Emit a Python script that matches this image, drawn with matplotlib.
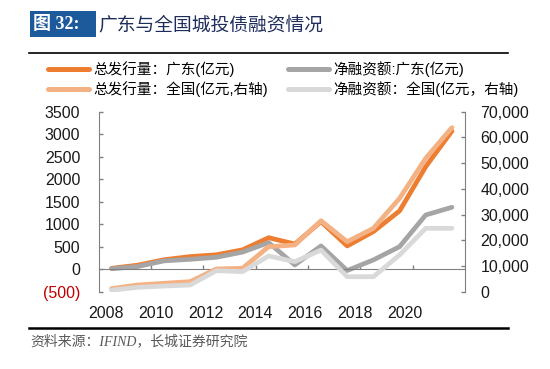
import numpy as np
import matplotlib.pyplot as plt
from matplotlib.patches import Rectangle
from matplotlib.lines import Line2D

plt.rcParams['font.family'] = ['Liberation Sans', 'Noto Sans CJK SC', 'DejaVu Sans']

years = list(range(2008, 2022))
gd_issue = [20, 90, 210, 280, 320, 430, 700, 560, 1057, 517, 835, 1295, 2278, 3070]
gd_net = [10, 60, 185, 220, 265, 380, 590, 95, 517, -30, 206, 500, 1205, 1376]
cn_issue = [1200, 2600, 3270, 3900, 8830, 9100, 17500, 18170, 27600, 19450, 24650, 36300, 51900, 63800]
cn_net = [600, 1700, 2200, 2600, 8170, 7800, 13900, 11670, 16200, 5830, 5830, 14270, 24650, 24650]

left_ticks = [-500, 0, 500, 1000, 1500, 2000, 2500, 3000, 3500]
left_labels = ['(500)', '0', '500', '1000', '1500', '2000', '2500', '3000', '3500']
right_ticks = [0, 10000, 20000, 30000, 40000, 50000, 60000, 70000]
right_labels = ['0', '10,000', '20,000', '30,000', '40,000', '50,000', '60,000', '70,000']
year_labels = ['2008', '2010', '2012', '2014', '2016', '2018', '2020']

names = ['总发行量：广东(亿元)', '总发行量：全国(亿元,右轴)',
         '净融资额:广东(亿元)', '净融资额：全国(亿元，右轴)']
c_dark, c_light = '#ED7D31', '#F4B183'
c_gray, c_lgray = '#A5A5A5', '#D9D9D9'

W, H = 550, 369
fig = plt.figure(figsize=(5.5, 3.69), dpi=100)
ax = fig.add_axes([98.5 / W, 1 - 291.7 / H, (465 - 98.5) / W, 180 / H])
ax2 = ax.twinx()

x = np.arange(len(years))
lw = 3.4
ax.plot(x, gd_issue, color=c_dark, lw=lw, solid_joinstyle='round', solid_capstyle='round')
ax.plot(x, gd_net, color=c_gray, lw=lw, solid_joinstyle='round', solid_capstyle='round')
ax2.plot(x, cn_issue, color=c_light, lw=lw, solid_joinstyle='round', solid_capstyle='round')
ax2.plot(x, cn_net, color=c_lgray, lw=lw, solid_joinstyle='round', solid_capstyle='round')

ax.set_xlim(-0.5, len(years) - 0.5)
ax.set_ylim(-500, 3500)
ax2.set_ylim(0, 70000)

spine_c = '#808080'
for a in (ax, ax2):
    for s in a.spines.values():
        s.set_visible(False)
        s.set_color(spine_c)
ax.spines['left'].set_visible(True)
ax.spines['bottom'].set_visible(True)
ax.spines['bottom'].set_position(('data', 0))
ax2.spines['right'].set_visible(True)

ax.set_yticks(left_ticks, left_labels)
ax.tick_params(axis='y', direction='in', length=3, width=1, color=spine_c,
               labelsize=11.5, pad=13, labelcolor='#1a1a1a')
ax.get_yticklabels()[0].set_color('#C00000')
ax2.set_yticks(right_ticks, right_labels)
ax2.tick_params(axis='y', direction='in', length=3, width=1, color=spine_c,
                labelsize=11.5, pad=11, labelcolor='#1a1a1a')

# small ticks on the zero line
ax.set_xticks(np.arange(1.5, 12, 2), [])
ax.tick_params(axis='x', direction='in', length=3, width=1, color=spine_c)

sec = ax.secondary_xaxis(0.0)
sec.spines['bottom'].set_visible(False)
sec.set_xticks(np.linspace(-0.21, 11.19, len(year_labels)), year_labels)
sec.tick_params(length=0, labelsize=11.5, pad=10, labelcolor='#1a1a1a')

handles = [Line2D([], [], color=c, lw=3.6, solid_capstyle='round')
           for c in (c_dark, c_light, c_gray, c_lgray)]
fig.legend(handles, names, ncol=2, loc='upper left', bbox_to_anchor=(48 / W, 1 - 61 / H),
           frameon=False, fontsize=10.5, handlelength=2.8, handletextpad=0.3,
           columnspacing=1.4, labelspacing=0.3, borderpad=0, borderaxespad=0)

# title bar
fig.add_artist(Rectangle((30 / W, 1 - 37 / H), 66 / W, 26 / H, transform=fig.transFigure,
                         facecolor='#1C5A9C', edgecolor='none'))
fig.text(33 / W, 1 - 24.5 / H, '图 32:', color='white', fontsize=13, fontweight='bold',
         family=['Liberation Serif', 'Noto Sans CJK SC'], va='center', ha='left')
fig.text(98 / W, 1 - 24.5 / H, '广东与全国城投债融资情况', color='#1F2D5A', fontsize=13.5,
         family=['Noto Sans CJK SC'], va='center', ha='left')
fig.add_artist(Line2D([29 / W, 508 / W], [1 - 53 / H] * 2, transform=fig.transFigure,
                      color='black', lw=1.2))
fig.add_artist(Line2D([29 / W, 508 / W], [1 - 327.5 / H] * 2, transform=fig.transFigure,
                      color='black', lw=1.8))
fig.text(30 / W, 1 - 341 / H, '资料来源：IFIND，长城证券研究院', color='#595959', fontsize=10,
         style='italic', family=['Liberation Serif', 'Noto Sans CJK SC'], va='center', ha='left')

fig.savefig('out.png', dpi=100)
